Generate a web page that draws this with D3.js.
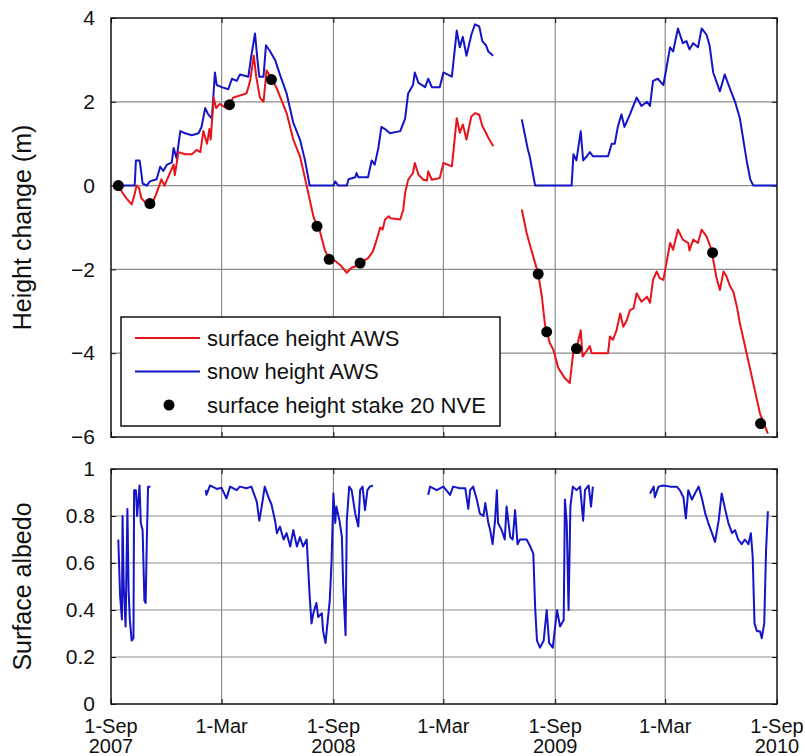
<!DOCTYPE html>
<html>
<head>
<meta charset="utf-8">
<script src="https://cdn.jsdelivr.net/npm/d3@7"></script>
<style>
  html, body { margin: 0; padding: 0; background: #fff; }
  svg { display: block; }
</style>
</head>
<body>
<div id="chart"></div>
<script>
// Day offsets from 1 Sep 2007, value. null marks a data gap.
const surfaceAws = [
  [12,0],[17,-0.13],[25,-0.3],[34,-0.45],[39,-0.2],[42,0.0],[46,-0.05],[50,-0.3],[59,-0.45],[64,-0.43],
  [70,-0.35],[75,-0.18],[83,0.15],[88,0.0],[94,0.2],[103,0.5],[105,0.25],[111,0.8],[122,0.75],[133,0.75],
  [141,0.85],[147,0.8],[152,1.3],[158,1.0],[162,1.35],[164,1.1],[169,2.1],[173,1.85],[179,1.95],[190,1.85],
  [195,1.93],[201,2.1],[212,2.15],[223,2.2],[229,2.5],[235,3.1],[239,2.6],[245,2.1],[251,2.0],[256,2.75],
  [264,2.55],[272,2.35],[278,2.13],[289,1.73],[300,1.1],[311,0.7],[322,0],[333,-0.73],[339,-0.97],[344,-1.1],
  [352,-1.54],[359,-1.76],[369,-1.8],[379,-1.92],[388,-2.08],[396,-1.96],[404,-1.92],[410,-1.85],[423,-1.73],
  [431,-1.57],[437,-1.3],[443,-1.0],[447,-1.05],[451,-0.81],[457,-0.73],[460,-0.78],[476,-0.81],[481,-0.57],
  [484,-0.18],[489,0.14],[497,0.3],[500,0.54],[506,0.26],[514,0.14],[520,0.12],[522,0.34],[528,0.14],[541,0.18],
  [547,0.54],[561,0.46],[569,1.61],[574,1.26],[579,1.46],[585,1.1],[589,1.38],[593,1.65],[599,1.73],[606,1.69],
  [611,1.42],[617,1.26],[621,1.14],[629,0.94],
  null,
  [676,-0.57],[684,-1.13],[690,-1.45],[698,-1.85],[703,-2.11],[709,-2.64],[714,-3.3],[717,-3.49],[722,-3.75],
  [728,-3.92],[736,-4.35],[747,-4.6],[755,-4.71],[761,-3.94],[766,-3.9],[773,-3.45],[776,-4.08],[780,-4.0],
  [788,-3.83],[791,-4.0],[818,-4.0],[821,-3.6],[826,-3.68],[832,-3.45],[838,-3.05],[843,-3.37],[849,-3.21],
  [854,-2.97],[860,-2.93],[865,-2.57],[873,-2.77],[882,-2.65],[887,-2.8],[892,-2.25],[898,-2.05],[903,-2.21],
  [909,-2.25],[914,-1.85],[920,-1.37],[925,-1.53],[933,-1.05],[941,-1.29],[950,-1.37],[952,-1.55],[958,-1.29],
  [966,-1.37],[972,-1.05],[980,-1.21],[990,-1.6],[991,-1.77],[996,-2.17],[1002,-2.49],[1008,-2.05],[1013,-2.17],
  [1019,-2.41],[1024,-2.53],[1030,-2.89],[1035,-3.29],[1046,-4.0],[1057,-4.72],[1068,-5.44],[1081,-5.92]
];

const snowAws = [
  [12,0],[39,0],[41,0.6],[47,0.6],[50,0.3],[52,0.05],[59,0],[64,0.1],[75,0.15],[81,0.45],[86,0.35],[92,0.5],
  [100,0.55],[103,0.9],[108,0.65],[114,1.3],[122,1.25],[133,1.2],[144,1.25],[149,1.4],[155,1.85],[160,1.7],
  [166,1.6],[171,2.7],[174,2.4],[182,2.35],[193,2.3],[199,2.55],[207,2.5],[212,2.65],[226,2.6],[231,3.1],
  [237,3.63],[241,3.0],[244,2.6],[251,2.6],[255,3.35],[262,3.2],[270,3.0],[278,2.65],[289,2.2],[300,1.5],
  [311,1.1],[319,0.62],[327,0],[366,0],[369,0.1],[374,0],[388,0],[391,0.15],[402,0.2],[404,0.3],[407,0.2],
  [423,0.2],[429,0.6],[434,0.5],[440,0.9],[445,1.4],[451,1.35],[459,1.25],[476,1.3],[484,1.6],[489,2.2],
  [497,2.4],[500,2.7],[506,2.45],[517,2.35],[522,2.55],[528,2.35],[541,2.35],[547,2.7],[561,2.6],[569,3.7],
  [574,3.3],[579,3.55],[585,3.1],[593,3.6],[599,3.85],[606,3.8],[611,3.45],[617,3.35],[621,3.2],[629,3.1],
  null,
  [676,1.58],[686,0.86],[689,0.7],[698,0],[758,0],[761,0.75],[766,0.6],[773,1.3],[777,0.6],[783,0.7],
  [788,0.8],[793,0.7],[818,0.7],[824,1.0],[829,1.0],[834,1.4],[840,1.7],[845,1.4],[854,1.7],[865,2.1],
  [873,1.9],[882,2.0],[887,1.9],[892,2.5],[900,2.55],[909,2.4],[914,2.8],[920,3.3],[925,3.2],[933,3.75],
  [941,3.4],[947,3.45],[952,3.25],[958,3.4],[966,3.3],[972,3.75],[980,3.6],[985,3.35],[991,2.7],[1002,2.25],
  [1010,2.65],[1019,2.3],[1027,2.0],[1035,1.6],[1046,0.6],[1052,0.15],[1057,0],[1096,0]
];

const stake20 = [
  [12,0],[64,-0.43],[195,1.93],[264,2.53],[339,-0.97],[359,-1.76],[410,-1.85],
  [703,-2.11],[717,-3.49],[766,-3.89],[990,-1.6],[1069,-5.68]
];

const albedo = [
  [12,0.70],[15,0.46],[18,0.36],[19,0.80],[21,0.50],[24,0.33],[27,0.83],[29,0.48],[31,0.36],[34,0.27],
  [37,0.28],[38,0.91],[41,0.91],[43,0.80],[47,0.93],[49,0.77],[52,0.74],[55,0.44],[57,0.43],[59,0.70],
  [61,0.925],[65,0.925],
  null,
  [156,0.91],[157,0.89],[163,0.93],[174,0.915],[182,0.92],[190,0.875],[196,0.925],[207,0.91],[212,0.925],
  [223,0.918],[231,0.925],[240,0.86],[244,0.78],[248,0.84],[253,0.925],[259,0.88],[264,0.85],[270,0.78],
  [273,0.727],[278,0.755],[284,0.70],[289,0.727],[295,0.67],[300,0.74],[306,0.67],[311,0.71],[316,0.67],
  [322,0.70],[327,0.457],[330,0.343],[333,0.386],[338,0.43],[341,0.37],[347,0.386],[349,0.31],[353,0.26],
  [358,0.39],[360,0.44],[363,0.61],[366,0.896],[369,0.77],[371,0.84],[376,0.78],[380,0.71],[382,0.51],
  [386,0.293],[388,0.78],[392,0.925],[396,0.91],[402,0.81],[407,0.755],[410,0.91],[414,0.925],[418,0.825],
  [422,0.91],[426,0.925],[431,0.93],
  null,
  [522,0.89],[525,0.925],[536,0.91],[547,0.925],[558,0.89],[563,0.925],[574,0.918],[583,0.918],[588,0.83],
  [591,0.91],[596,0.925],[602,0.87],[607,0.81],[613,0.80],[616,0.855],[621,0.77],[624,0.74],[628,0.68],
  [632,0.78],[635,0.91],[637,0.77],[643,0.74],[648,0.70],[651,0.84],[657,0.71],[661,0.70],[665,0.825],
  [669,0.68],[673,0.70],[679,0.70],[684,0.70],[690,0.67],[695,0.64],[698,0.41],[701,0.27],[706,0.24],
  [712,0.27],[717,0.40],[721,0.26],[727,0.24],[734,0.40],[739,0.33],[745,0.357],[747,0.87],[750,0.77],
  [753,0.40],[756,0.84],[760,0.925],[766,0.91],[772,0.925],[777,0.78],[780,0.91],[786,0.93],[790,0.84],
  [793,0.925],
  null,
  [887,0.896],[893,0.925],[895,0.88],[901,0.925],[909,0.93],[920,0.925],[931,0.925],[936,0.91],[942,0.88],
  [946,0.79],[950,0.91],[956,0.87],[961,0.896],[967,0.925],[972,0.88],[978,0.81],[983,0.77],[989,0.727],
  [994,0.69],[1000,0.78],[1005,0.896],[1011,0.825],[1016,0.77],[1022,0.727],[1027,0.74],[1032,0.70],
  [1038,0.68],[1043,0.70],[1049,0.68],[1053,0.727],[1056,0.627],[1059,0.343],[1063,0.31],[1068,0.31],
  [1071,0.28],[1075,0.343],[1078,0.655],[1081,0.82]
];

const xTicks = ['2007-09-01','2008-03-01','2008-09-01','2009-03-01','2009-09-01','2010-03-01','2010-09-01'];
const xTickLabels = [['1-Sep','2007'],['1-Mar'],['1-Sep','2008'],['1-Mar'],['1-Sep','2009'],['1-Mar'],['1-Sep','2010']];
const heightTicks = [4, 2, 0, -2, -4, -6];
const albedoTicks = [1, 0.8, 0.6, 0.4, 0.2, 0];
const legendItems = ['surface height AWS', 'snow height AWS', 'surface height stake 20 NVE'];

// ── Layout ────────────────────────────────────────────────────
const W = 805, H = 756;
const FONT = '"Liberation Sans", Arial, Helvetica, sans-serif';
const RED = '#e8141c', BLUE = '#1414c8', GRID = '#8c8c8c';

const parse = d3.utcParse('%Y-%m-%d');
const t0 = parse('2007-09-01');
const dayToDate = d => d3.utcDay.offset(t0, d);

const x = d3.scaleUtc()
  .domain([t0, parse('2010-09-01')])
  .range([111, 777]);

const yTop = d3.scaleLinear().domain([-6, 4]).range([437, 18]);
const yBot = d3.scaleLinear().domain([0, 1]).range([704, 469]);

const svg = d3.select('#chart').append('svg')
  .attr('width', W).attr('height', H)
  .attr('viewBox', `0 0 ${W} ${H}`)
  .style('font-family', FONT);

svg.append('rect').attr('width', W).attr('height', H).attr('fill', '#fff');

function panel(y, ticks, fmt) {
  const g = svg.append('g');
  const [x0, x1] = x.range();
  const [yb, yt] = y.range();

  // grid
  g.append('g').selectAll('line.v')
    .data(xTicks.slice(1, -1))
    .join('line')
    .attr('x1', d => x(parse(d))).attr('x2', d => x(parse(d)))
    .attr('y1', yt).attr('y2', yb)
    .attr('stroke', GRID).attr('stroke-width', 1.2);
  g.append('g').selectAll('line.h')
    .data(ticks.slice(1, -1))
    .join('line')
    .attr('x1', x0).attr('x2', x1)
    .attr('y1', d => y(d)).attr('y2', d => y(d))
    .attr('stroke', GRID).attr('stroke-width', 1.2);

  // y axis labels + inward ticks both sides
  const yAxisL = d3.axisLeft(y).tickValues(ticks).tickSize(-5).tickPadding(16).tickFormat(fmt);
  const ga = g.append('g').attr('transform', `translate(${x0},0)`).call(yAxisL);
  ga.select('.domain').remove();
  ga.selectAll('text').attr('font-size', 21).attr('font-family', FONT).attr('fill', '#111');
  ga.selectAll('line').attr('stroke', '#111');
  const gr = g.append('g').attr('transform', `translate(${x1},0)`)
    .call(d3.axisRight(y).tickValues(ticks).tickSize(-5).tickFormat(''));
  gr.select('.domain').remove();
  gr.selectAll('line').attr('stroke', '#111');

  // x inward ticks top and bottom
  const xt = xTicks.map(parse);
  const gb = g.append('g').attr('transform', `translate(0,${yb})`)
    .call(d3.axisBottom(x).tickValues(xt).tickSize(-5).tickFormat(''));
  gb.select('.domain').remove();
  gb.selectAll('line').attr('stroke', '#111');
  const gt = g.append('g').attr('transform', `translate(0,${yt})`)
    .call(d3.axisTop(x).tickValues(xt).tickSize(-5).tickFormat(''));
  gt.select('.domain').remove();
  gt.selectAll('line').attr('stroke', '#111');

  return g;
}

function frame(y) {
  const [x0, x1] = x.range();
  const [yb, yt] = y.range();
  svg.append('rect')
    .attr('x', x0).attr('y', yt)
    .attr('width', x1 - x0).attr('height', yb - yt)
    .attr('fill', 'none').attr('stroke', '#111').attr('stroke-width', 1.5);
}

function series(y, data, color) {
  const line = d3.line()
    .defined(d => d !== null)
    .x(d => x(dayToDate(d[0])))
    .y(d => y(d[1]));
  svg.append('path')
    .datum(data)
    .attr('d', line)
    .attr('fill', 'none')
    .attr('stroke', color)
    .attr('stroke-width', 2)
    .attr('stroke-linejoin', 'round');
}

// ── Top panel: height change ───────────────────────────────────
panel(yTop, heightTicks, d3.format('d'));
series(yTop, snowAws, BLUE);
series(yTop, surfaceAws, RED);
svg.append('g').selectAll('circle')
  .data(stake20)
  .join('circle')
  .attr('cx', d => x(dayToDate(d[0])))
  .attr('cy', d => yTop(d[1]))
  .attr('r', 5.5)
  .attr('fill', '#000');
frame(yTop);

// legend
const lg = svg.append('g').attr('transform', 'translate(121,317)');
lg.append('rect').attr('width', 379).attr('height', 109)
  .attr('fill', '#fff').attr('stroke', '#111').attr('stroke-width', 1.5);
legendItems.forEach((label, i) => {
  const cy = 21 + i * 33.5;
  if (i < 2) {
    lg.append('line').attr('x1', 14).attr('x2', 79).attr('y1', cy).attr('y2', cy)
      .attr('stroke', i === 0 ? RED : BLUE).attr('stroke-width', 2);
  } else {
    lg.append('circle').attr('cx', 48).attr('cy', cy).attr('r', 5.5).attr('fill', '#000');
  }
  lg.append('text').attr('x', 86).attr('y', cy)
    .attr('dominant-baseline', 'central')
    .attr('font-size', 22).attr('fill', '#111')
    .text(label);
});

// ── Bottom panel: albedo ───────────────────────────────────────
panel(yBot, albedoTicks, d => d === 0 || d === 1 ? String(d) : d3.format('.1f')(d));
series(yBot, albedo, BLUE);
frame(yBot);

// x labels
const xl = svg.append('g').selectAll('text')
  .data(xTicks.map((d, i) => ({ d: parse(d), lines: xTickLabels[i] })))
  .join('text')
  .attr('text-anchor', 'middle')
  .attr('font-size', 20)
  .attr('fill', '#111');
xl.each(function (t) {
  const sel = d3.select(this);
  t.lines.forEach((s, j) => {
    sel.append('tspan').attr('x', x(t.d)).attr('y', 733 + j * 20).text(s);
  });
});

// axis titles
svg.append('text')
  .attr('transform', `translate(31,${(yTop.range()[0] + yTop.range()[1]) / 2}) rotate(-90)`)
  .attr('text-anchor', 'middle').attr('font-size', 25).attr('fill', '#111')
  .text('Height change (m)');
svg.append('text')
  .attr('transform', `translate(31,${(yBot.range()[0] + yBot.range()[1]) / 2}) rotate(-90)`)
  .attr('text-anchor', 'middle').attr('font-size', 25).attr('fill', '#111')
  .text('Surface albedo');
</script>
</body>
</html>
